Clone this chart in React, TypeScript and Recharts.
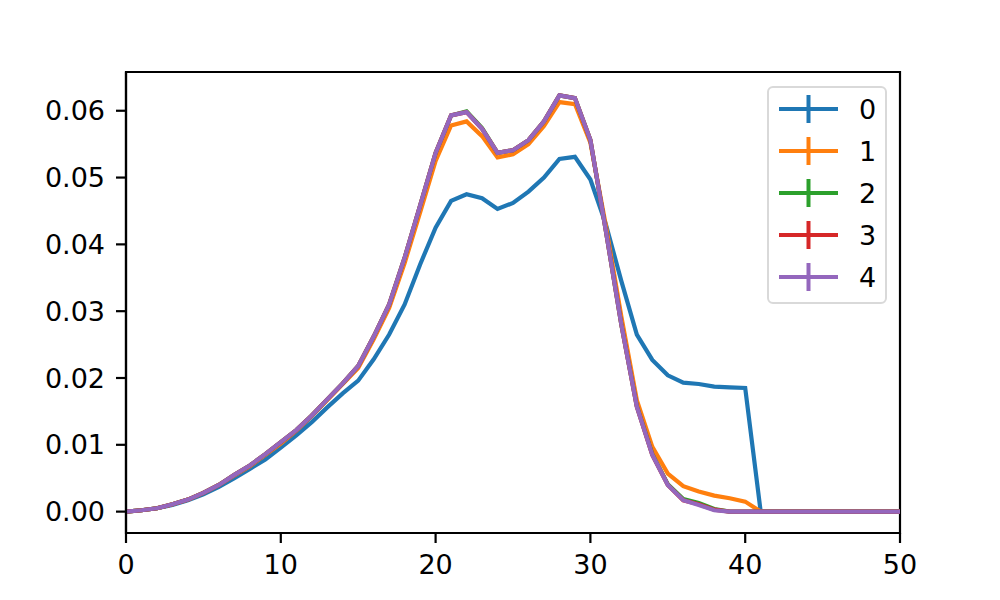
import { Line, LineChart, ReferenceArea, XAxis, YAxis } from "recharts";

const X_VALUES = Array.from({ length: 51 }, (_, i) => i);

const SERIES_0 = [
  0, 0.0002, 0.0005, 0.001, 0.0017, 0.0026, 0.0037, 0.005, 0.0064, 0.0078,
  0.0096, 0.0114, 0.0134, 0.0156, 0.0177, 0.0196, 0.0228, 0.0265, 0.031, 0.037,
  0.0425, 0.0465, 0.0475, 0.0469, 0.0453, 0.0462, 0.0479, 0.05, 0.0528, 0.0531,
  0.0497, 0.043, 0.0345, 0.0265, 0.0227, 0.0204, 0.0193, 0.0191, 0.0187, 0.0186,
  0.0185, 0, 0, 0, 0, 0, 0, 0, 0, 0, 0,
];
const SERIES_1 = [
  0, 0.0002, 0.0005, 0.0011, 0.0018, 0.0028, 0.004, 0.0054, 0.0068, 0.0085,
  0.0102, 0.0121, 0.0143, 0.0167, 0.0191, 0.0215, 0.0258, 0.0305, 0.0372, 0.0448,
  0.0525, 0.0578, 0.0584, 0.0562, 0.053, 0.0535, 0.055, 0.0577, 0.0613, 0.061,
  0.0552, 0.0428, 0.0292, 0.0167, 0.0097, 0.0057, 0.0038, 0.003, 0.0024, 0.002,
  0.0015, 0, 0, 0, 0, 0, 0, 0, 0, 0, 0,
];
const SERIES_2 = [
  0, 0.0002, 0.0005, 0.0011, 0.0018, 0.0028, 0.004, 0.0055, 0.0069, 0.0086,
  0.0104, 0.0122, 0.0144, 0.0168, 0.0192, 0.0218, 0.0262, 0.031, 0.038, 0.0458,
  0.0537, 0.0593, 0.0599, 0.0574, 0.0537, 0.0541, 0.0556, 0.0584, 0.0623, 0.0619,
  0.0556, 0.042, 0.028, 0.0158, 0.0086, 0.0041, 0.0019, 0.0013, 0.0004, 0,
  0, 0, 0, 0, 0, 0, 0, 0, 0, 0, 0,
];
const SERIES_3 = [
  0, 0.0002, 0.0005, 0.0011, 0.0018, 0.0028, 0.004, 0.0055, 0.0069, 0.0086,
  0.0104, 0.0122, 0.0144, 0.0168, 0.0192, 0.0218, 0.0262, 0.031, 0.038, 0.0458,
  0.0537, 0.0593, 0.0598, 0.0573, 0.0537, 0.0541, 0.0556, 0.0584, 0.0623, 0.0619,
  0.0556, 0.042, 0.028, 0.0157, 0.0085, 0.004, 0.0017, 0.0011, 0.0003, 0,
  0, 0, 0, 0, 0, 0, 0, 0, 0, 0, 0,
];
const SERIES_4 = [
  0, 0.0002, 0.0005, 0.0011, 0.0018, 0.0028, 0.004, 0.0055, 0.0069, 0.0086,
  0.0104, 0.0122, 0.0144, 0.0168, 0.0192, 0.0218, 0.0262, 0.031, 0.038, 0.0458,
  0.0537, 0.0593, 0.0598, 0.0573, 0.0537, 0.0541, 0.0556, 0.0584, 0.0623, 0.0619,
  0.0556, 0.042, 0.028, 0.0157, 0.0085, 0.004, 0.0017, 0.001, 0.0002, 0,
  0, 0, 0, 0, 0, 0, 0, 0, 0, 0, 0,
];

const SERIES_NAMES = ["0", "1", "2", "3", "4"];
const SERIES_VALUES = [SERIES_0, SERIES_1, SERIES_2, SERIES_3, SERIES_4];
const COLORS = ["#1f77b4", "#ff7f0e", "#2ca02c", "#d62728", "#9467bd"];

const X_TICKS = [0, 10, 20, 30, 40, 50];
const Y_TICKS = [0, 0.01, 0.02, 0.03, 0.04, 0.05, 0.06];
const Y_MIN = -0.0032;
const Y_MAX = 0.0658;

const data = X_VALUES.map((x, i) => {
  const row: Record<string, number> = { x };
  SERIES_NAMES.forEach((name, s) => {
    row["s" + name] = SERIES_VALUES[s][i];
  });
  return row;
});

const FONT = "DejaVu Sans, sans-serif";

// matplotlib errorbar-style legend handles (line with a vertical cap)
function ErrorbarLegend() {
  return (
    <div
      style={{
        position: "absolute",
        left: 767,
        top: 86,
        width: 120,
        height: 218,
        border: "2px solid #d9d9d9",
        borderRadius: 6,
        background: "rgba(255,255,255,0.8)",
        boxSizing: "border-box",
        fontFamily: FONT,
      }}
    >
      <svg width={116} height={214} style={{ display: "block" }}>
        {SERIES_NAMES.map((name, i) => {
          const cy = 21 + i * 42;
          return (
            <g key={name}>
              <line x1={10} x2={69} y1={cy} y2={cy} stroke={COLORS[i]} strokeWidth={4} />
              <line x1={39.5} x2={39.5} y1={cy - 14} y2={cy + 14} stroke={COLORS[i]} strokeWidth={4} />
              <text x={90} y={cy} dy="0.36em" fontSize={27} fill="#000">
                {name}
              </text>
            </g>
          );
        })}
      </svg>
    </div>
  );
}

export default function App() {
  return (
    <div style={{ position: "absolute", left: 0, top: 0, width: 1000, height: 600, background: "#fff" }}>
      <LineChart
        width={1000}
        height={600}
        data={data}
        margin={{ top: 72, right: 100, bottom: 27, left: 26 }}
      >
        <XAxis
          dataKey="x"
          type="number"
          domain={[0, 50]}
          ticks={X_TICKS}
          allowDataOverflow
          height={40}
          tickSize={10}
          tickMargin={12}
          tick={{ fontSize: 27, fill: "#000", fontFamily: FONT }}
          axisLine={{ stroke: "#000", strokeWidth: 2.2 }}
          tickLine={{ stroke: "#000", strokeWidth: 2.2 }}
        />
        <YAxis
          type="number"
          domain={[Y_MIN, Y_MAX]}
          ticks={Y_TICKS}
          allowDataOverflow
          width={100}
          tickSize={10}
          tickMargin={11}
          tickFormatter={(v: number) => v.toFixed(2)}
          tick={{ fontSize: 27, fill: "#000", fontFamily: FONT }}
          axisLine={{ stroke: "#000", strokeWidth: 2.2 }}
          tickLine={{ stroke: "#000", strokeWidth: 2.2 }}
        />
        {SERIES_NAMES.map((name, i) => (
          <Line
            key={name}
            dataKey={"s" + name}
            name={name}
            type="linear"
            stroke={COLORS[i]}
            strokeWidth={4.2}
            dot={false}
            activeDot={false}
            isAnimationActive={false}
          />
        ))}
        <ReferenceArea
          x1={0}
          x2={50}
          y1={Y_MIN}
          y2={Y_MAX}
          fill="none"
          stroke="#000"
          strokeWidth={2.2}
          ifOverflow="visible"
        />
      </LineChart>
      <ErrorbarLegend />
    </div>
  );
}
